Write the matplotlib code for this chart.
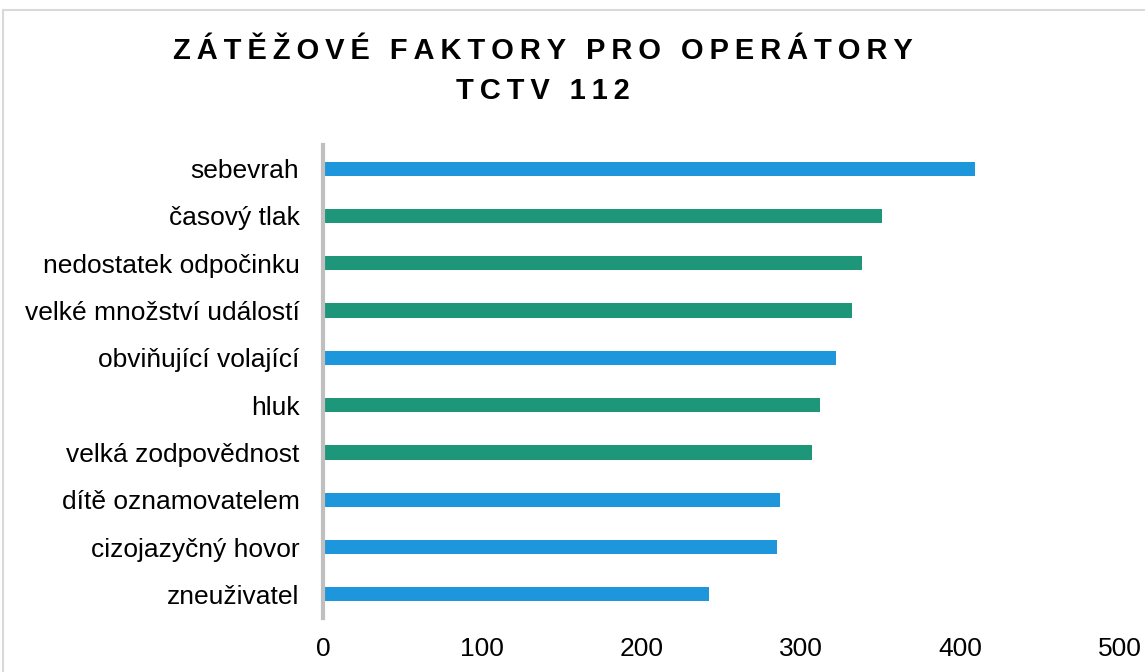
import matplotlib
matplotlib.use("Agg")
import matplotlib.pyplot as plt
from matplotlib.patches import Rectangle

plt.rcParams['font.family'] = ['Liberation Sans', 'DejaVu Sans']

faktory = ["sebevrah", "časový tlak", "nedostatek odpočinku", "velké množství událostí",
           "obviňující volající", "hluk", "velká zodpovědnost", "dítě oznamovatelem",
           "cizojazyčný hovor", "zneuživatel"]
hodnoty = [409, 351, 338, 332, 322, 312, 307, 287, 285, 242]
skupina = ["b", "g", "g", "g", "b", "g", "g", "b", "b", "b"]

barvy = {"b": "#1E96DC", "g": "#1E967A"}

fig = plt.figure(figsize=(11.45, 6.72), dpi=100)
fig.patches.append(Rectangle((3 / 1145, -0.1), 1.2, (672 - 10) / 672 + 0.1,
                             transform=fig.transFigure, fill=False,
                             edgecolor="#D9D9D9", linewidth=1.5))
ax = fig.add_axes([323 / 1145, 54 / 672, 797 / 1145, 473 / 672])

y = list(range(len(faktory)))
ax.barh(y, hodnoty, height=0.3, color=[barvy[s] for s in skupina])
ax.set_ylim(len(faktory) - 0.5, -0.5)
ax.set_xlim(0, 500)
ax.set_xticks([0, 100, 200, 300, 400, 500])
ax.set_yticks(y)
ax.set_yticklabels(faktory, fontsize=19)
ax.tick_params(axis="x", length=0, pad=14, labelsize=19)
ax.tick_params(axis="y", length=0, pad=17)
for s in ["top", "right", "bottom"]:
    ax.spines[s].set_visible(False)
ax.spines["left"].set_color("#BFBFBF")
ax.spines["left"].set_linewidth(3)

def rozpal(t):
    return "\u2009".join(t)

fig.text(543 / 1145, 1 - 51 / 672, rozpal("ZÁTĚŽOVÉ FAKTORY PRO OPERÁTORY"),
         ha="center", va="center", fontsize=21, fontweight="bold")
fig.text(543 / 1145, 1 - 91 / 672, rozpal("TCTV 112"),
         ha="center", va="center", fontsize=21, fontweight="bold")

fig.savefig("out.png", dpi=100, facecolor="white")
